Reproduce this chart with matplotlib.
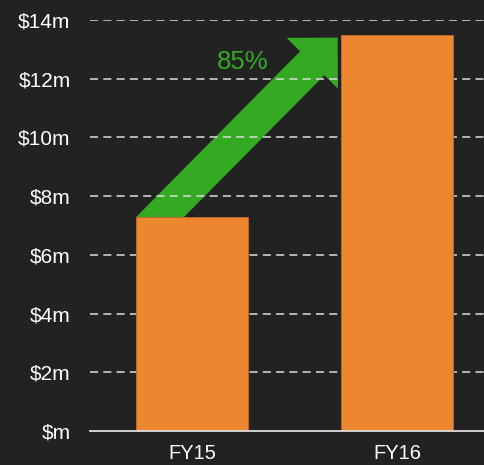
import matplotlib
matplotlib.use("Agg")
import matplotlib.pyplot as plt
from matplotlib.patches import Rectangle

# data
years = ["FY15", "FY16"]
revenue = [7.3, 13.5]  # $m
growth_label = "85%"
yticks = [0, 2, 4, 6, 8, 10, 12, 14]
ytick_labels = ["$m" if v == 0 else f"${v}m" for v in yticks]

bg = "#222222"
orange = "#ED872F"
green = "#33AA22"
light = "#DDDDDD"

plt.rcParams['font.family'] = ['Liberation Sans', 'DejaVu Sans']

fig = plt.figure(figsize=(4.85, 4.65), dpi=100, facecolor=bg)
ax = fig.add_axes([0.1856, 0.0731, 0.8144, 0.8839], facecolor=bg)

xs = list(range(len(years)))
bar_w = 0.546
ax.bar(xs, revenue, width=bar_w, color=orange, edgecolor="#B8692A", linewidth=0.7, zorder=2)

ax.set_xlim(-0.5, 1.43)
ax.set_ylim(0, 14)

# dashed grid lines over the arrow, under the bars
for v in yticks[1:]:
    ax.axhline(v, color=light, linestyle=(0, (5.3, 3.4)), linewidth=1.1, zorder=1)

# growth arrow from FY15 bar top to FY16 bar top-left
tail = (xs[0] - 0.156, revenue[0])
tip = (xs[1] - 0.29, revenue[1] - 0.1)
tail_ext = (tail[0] - 0.15 * (tip[0] - tail[0]), tail[1] - 0.15 * (tip[1] - tail[1]))
ann = ax.annotate("", xy=tip, xytext=tail_ext, xycoords="data", textcoords="data",
                  arrowprops=dict(arrowstyle="simple,head_length=26,head_width=52,tail_width=24.5",
                                  mutation_scale=1, fc=green, ec="none",
                                  shrinkA=0, shrinkB=0),
                  zorder=0.5)
clip = Rectangle((-1, revenue[0]), 3, 20, transform=ax.transData)
ann.arrow_patch.set_clip_path(clip)
ax.text(0.244, 12.57, growth_label, color=green, fontsize=18.5, ha="center", va="center")

ax.set_yticks(yticks)
ax.set_yticklabels(ytick_labels)
ax.set_xticks(xs)
ax.set_xticklabels(years)
ax.tick_params(axis="y", length=0, pad=14, labelsize=15, labelcolor="white")
ax.tick_params(axis="x", length=0, pad=9, labelsize=14.5, labelcolor="white")

for s in ["top", "right", "left"]:
    ax.spines[s].set_visible(False)
ax.spines["bottom"].set_color(light)
ax.spines["bottom"].set_linewidth(1.3)
ax.spines["bottom"].set_zorder(3)

fig.savefig("out.png", dpi=100, facecolor=bg)
